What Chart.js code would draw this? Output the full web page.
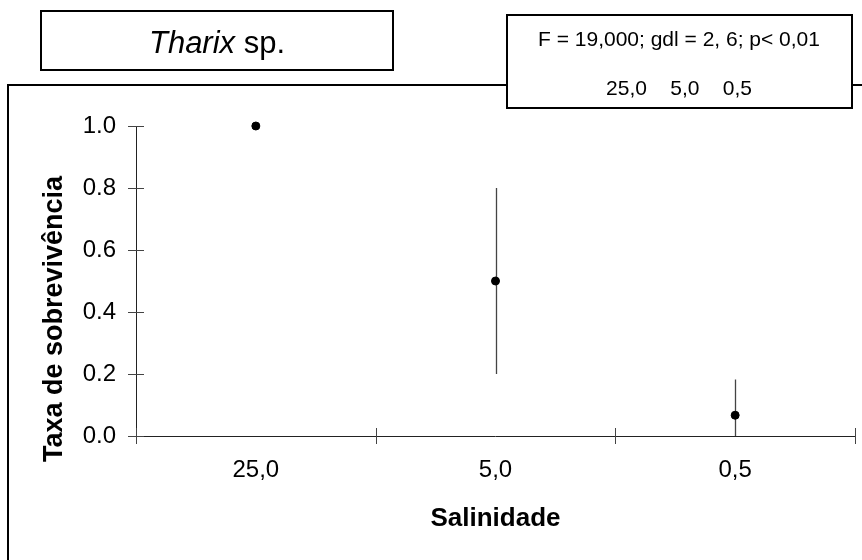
<!DOCTYPE html>
<html>
<head>
<meta charset="utf-8">
<script src="https://cdn.jsdelivr.net/npm/chart.js@4.4.0/dist/chart.umd.min.js"></script>
<style>
    html, body { margin: 0; padding: 0; background: #ffffff; }
    #wrap { width: 862px; height: 560px; }
</style>
</head>
<body>
<div id="wrap"><canvas id="chart" width="862" height="560"></canvas></div>
<script>
// survival per salinity (mean and standard deviation, n = 3)
const SALINIDADE = ["25,0", "5,0", "0,5"];
const SOBREVIVENCIA = [1.0, 0.5, 0.067];
const DESVIO = [0, 0.3, 0.115];
const Y_TICKS = [0, 0.2, 0.4, 0.6, 0.8, 1.0];

const ESPECIE = "Tharix";
const ANOVA = "F = 19,000; gdl = 2, 6; p< 0,01";
const Y_TITULO = "Taxa de sobrevivência";
const X_TITULO = "Salinidade";

const FONTE = "'Liberation Sans', Arial, sans-serif";

const quadro = {
    id: "quadro",
    beforeDraw(chart) {
        const ctx = chart.ctx;
        ctx.save();
        ctx.fillStyle = "#ffffff";
        ctx.fillRect(0, 0, chart.width, chart.height);
        // outer frame, runs off the right and bottom edge
        ctx.strokeStyle = "#000000";
        ctx.lineWidth = 2;
        ctx.strokeRect(8, 85, 900, 600);
        ctx.restore();
    },
    beforeDatasetsDraw(chart) {
        const ctx = chart.ctx;
        const x = chart.scales.x;
        const y = chart.scales.y;
        const area = chart.chartArea;
        ctx.save();

        // axis lines
        ctx.strokeStyle = "#222222";
        ctx.lineWidth = 1;
        ctx.beginPath();
        ctx.moveTo(area.left + 0.5, area.top);
        ctx.lineTo(area.left + 0.5, area.bottom);
        ctx.moveTo(area.left, area.bottom + 0.5);
        ctx.lineTo(area.right, area.bottom + 0.5);
        ctx.stroke();

        // cross ticks
        ctx.strokeStyle = "#444444";
        ctx.beginPath();
        Y_TICKS.forEach((v) => {
            const py = Math.round(y.getPixelForValue(v)) + 0.5;
            ctx.moveTo(area.left - 8, py);
            ctx.lineTo(area.left + 8, py);
        });
        for (let i = 0; i <= SALINIDADE.length; i++) {
            const px = Math.round(x.getPixelForValue(i - 0.5)) + 0.5;
            ctx.moveTo(px, area.bottom - 8);
            ctx.lineTo(px, area.bottom + 8);
        }
        ctx.stroke();

        // error bars (mean +/- sd, cut at zero)
        ctx.strokeStyle = "#444444";
        ctx.lineWidth = 1.3;
        ctx.beginPath();
        for (let i = 0; i < SOBREVIVENCIA.length; i++) {
            if (!DESVIO[i]) continue;
            const px = Math.round(x.getPixelForValue(i)) + 0.5;
            ctx.moveTo(px, y.getPixelForValue(Math.max(SOBREVIVENCIA[i] - DESVIO[i], 0)));
            ctx.lineTo(px, y.getPixelForValue(SOBREVIVENCIA[i] + DESVIO[i]));
        }
        ctx.stroke();
        ctx.restore();
    },
    afterDraw(chart) {
        const ctx = chart.ctx;
        ctx.save();
        ctx.fillStyle = "#000000";

        // y axis title
        ctx.save();
        ctx.translate(62, 319);
        ctx.rotate(-Math.PI / 2);
        ctx.font = "bold 27px " + FONTE;
        ctx.textAlign = "center";
        ctx.textBaseline = "alphabetic";
        ctx.fillText(Y_TITULO, 0, 0);
        ctx.restore();

        // species box
        ctx.fillStyle = "#ffffff";
        ctx.fillRect(41, 11, 352, 59);
        ctx.strokeStyle = "#000000";
        ctx.lineWidth = 2;
        ctx.strokeRect(41, 11, 352, 59);
        ctx.fillStyle = "#000000";
        ctx.textBaseline = "alphabetic";
        ctx.textAlign = "left";
        const italico = "italic 31px " + FONTE;
        const normal = "31px " + FONTE;
        ctx.font = italico;
        const w1 = ctx.measureText(ESPECIE).width;
        ctx.font = normal;
        const w2 = ctx.measureText(" sp.").width;
        const x0 = 217 - (w1 + w2) / 2;
        ctx.font = italico;
        ctx.fillText(ESPECIE, x0, 53);
        ctx.font = normal;
        ctx.fillText(" sp.", x0 + w1, 53);

        // ANOVA box
        ctx.fillStyle = "#ffffff";
        ctx.fillRect(507, 15, 345, 93);
        ctx.strokeRect(507, 15, 345, 93);
        ctx.fillStyle = "#000000";
        ctx.font = "21px " + FONTE;
        ctx.textAlign = "center";
        ctx.fillText(ANOVA, 679, 46);
        ctx.fillText(SALINIDADE.join("    "), 679, 95);

        ctx.restore();
    },
};

const ctx = document.getElementById("chart");

new Chart(ctx, {
    type: "line",
    data: {
        labels: SALINIDADE,
        datasets: [
            {
                data: SOBREVIVENCIA,
                showLine: false,
                pointRadius: 4,
                pointHoverRadius: 4,
                pointBackgroundColor: "#000000",
                borderColor: "#000000",
                borderWidth: 1,
                clip: false,
            },
        ],
    },
    options: {
        responsive: false,
        devicePixelRatio: 1,
        animation: false,
        layout: {
            padding: { top: 126, right: 7, bottom: 0, left: 0 },
        },
        plugins: {
            legend: { display: false },
            tooltip: { enabled: false },
        },
        scales: {
            x: {
                type: "category",
                offset: true,
                grid: { display: false, drawTicks: false },
                border: { display: false },
                ticks: {
                    color: "#000000",
                    padding: 20,
                    font: { family: FONTE, size: 24 },
                },
                title: {
                    display: true,
                    text: X_TITULO,
                    color: "#000000",
                    font: { family: FONTE, size: 26, weight: "bold" },
                    padding: { top: 0, bottom: 26 },
                },
                afterFit(scale) {
                    scale.height = 124;
                },
            },
            y: {
                min: 0,
                max: 1,
                grid: { display: false, drawTicks: false },
                border: { display: false },
                afterBuildTicks(scale) {
                    scale.ticks = Y_TICKS.map((v) => ({ value: v }));
                },
                ticks: {
                    color: "#000000",
                    padding: 20,
                    font: { family: FONTE, size: 24 },
                    callback: (v) => Number(v).toFixed(1),
                },
                afterFit(scale) {
                    scale.width = 136;
                },
            },
        },
    },
    plugins: [quadro],
});
</script>
</body>
</html>
